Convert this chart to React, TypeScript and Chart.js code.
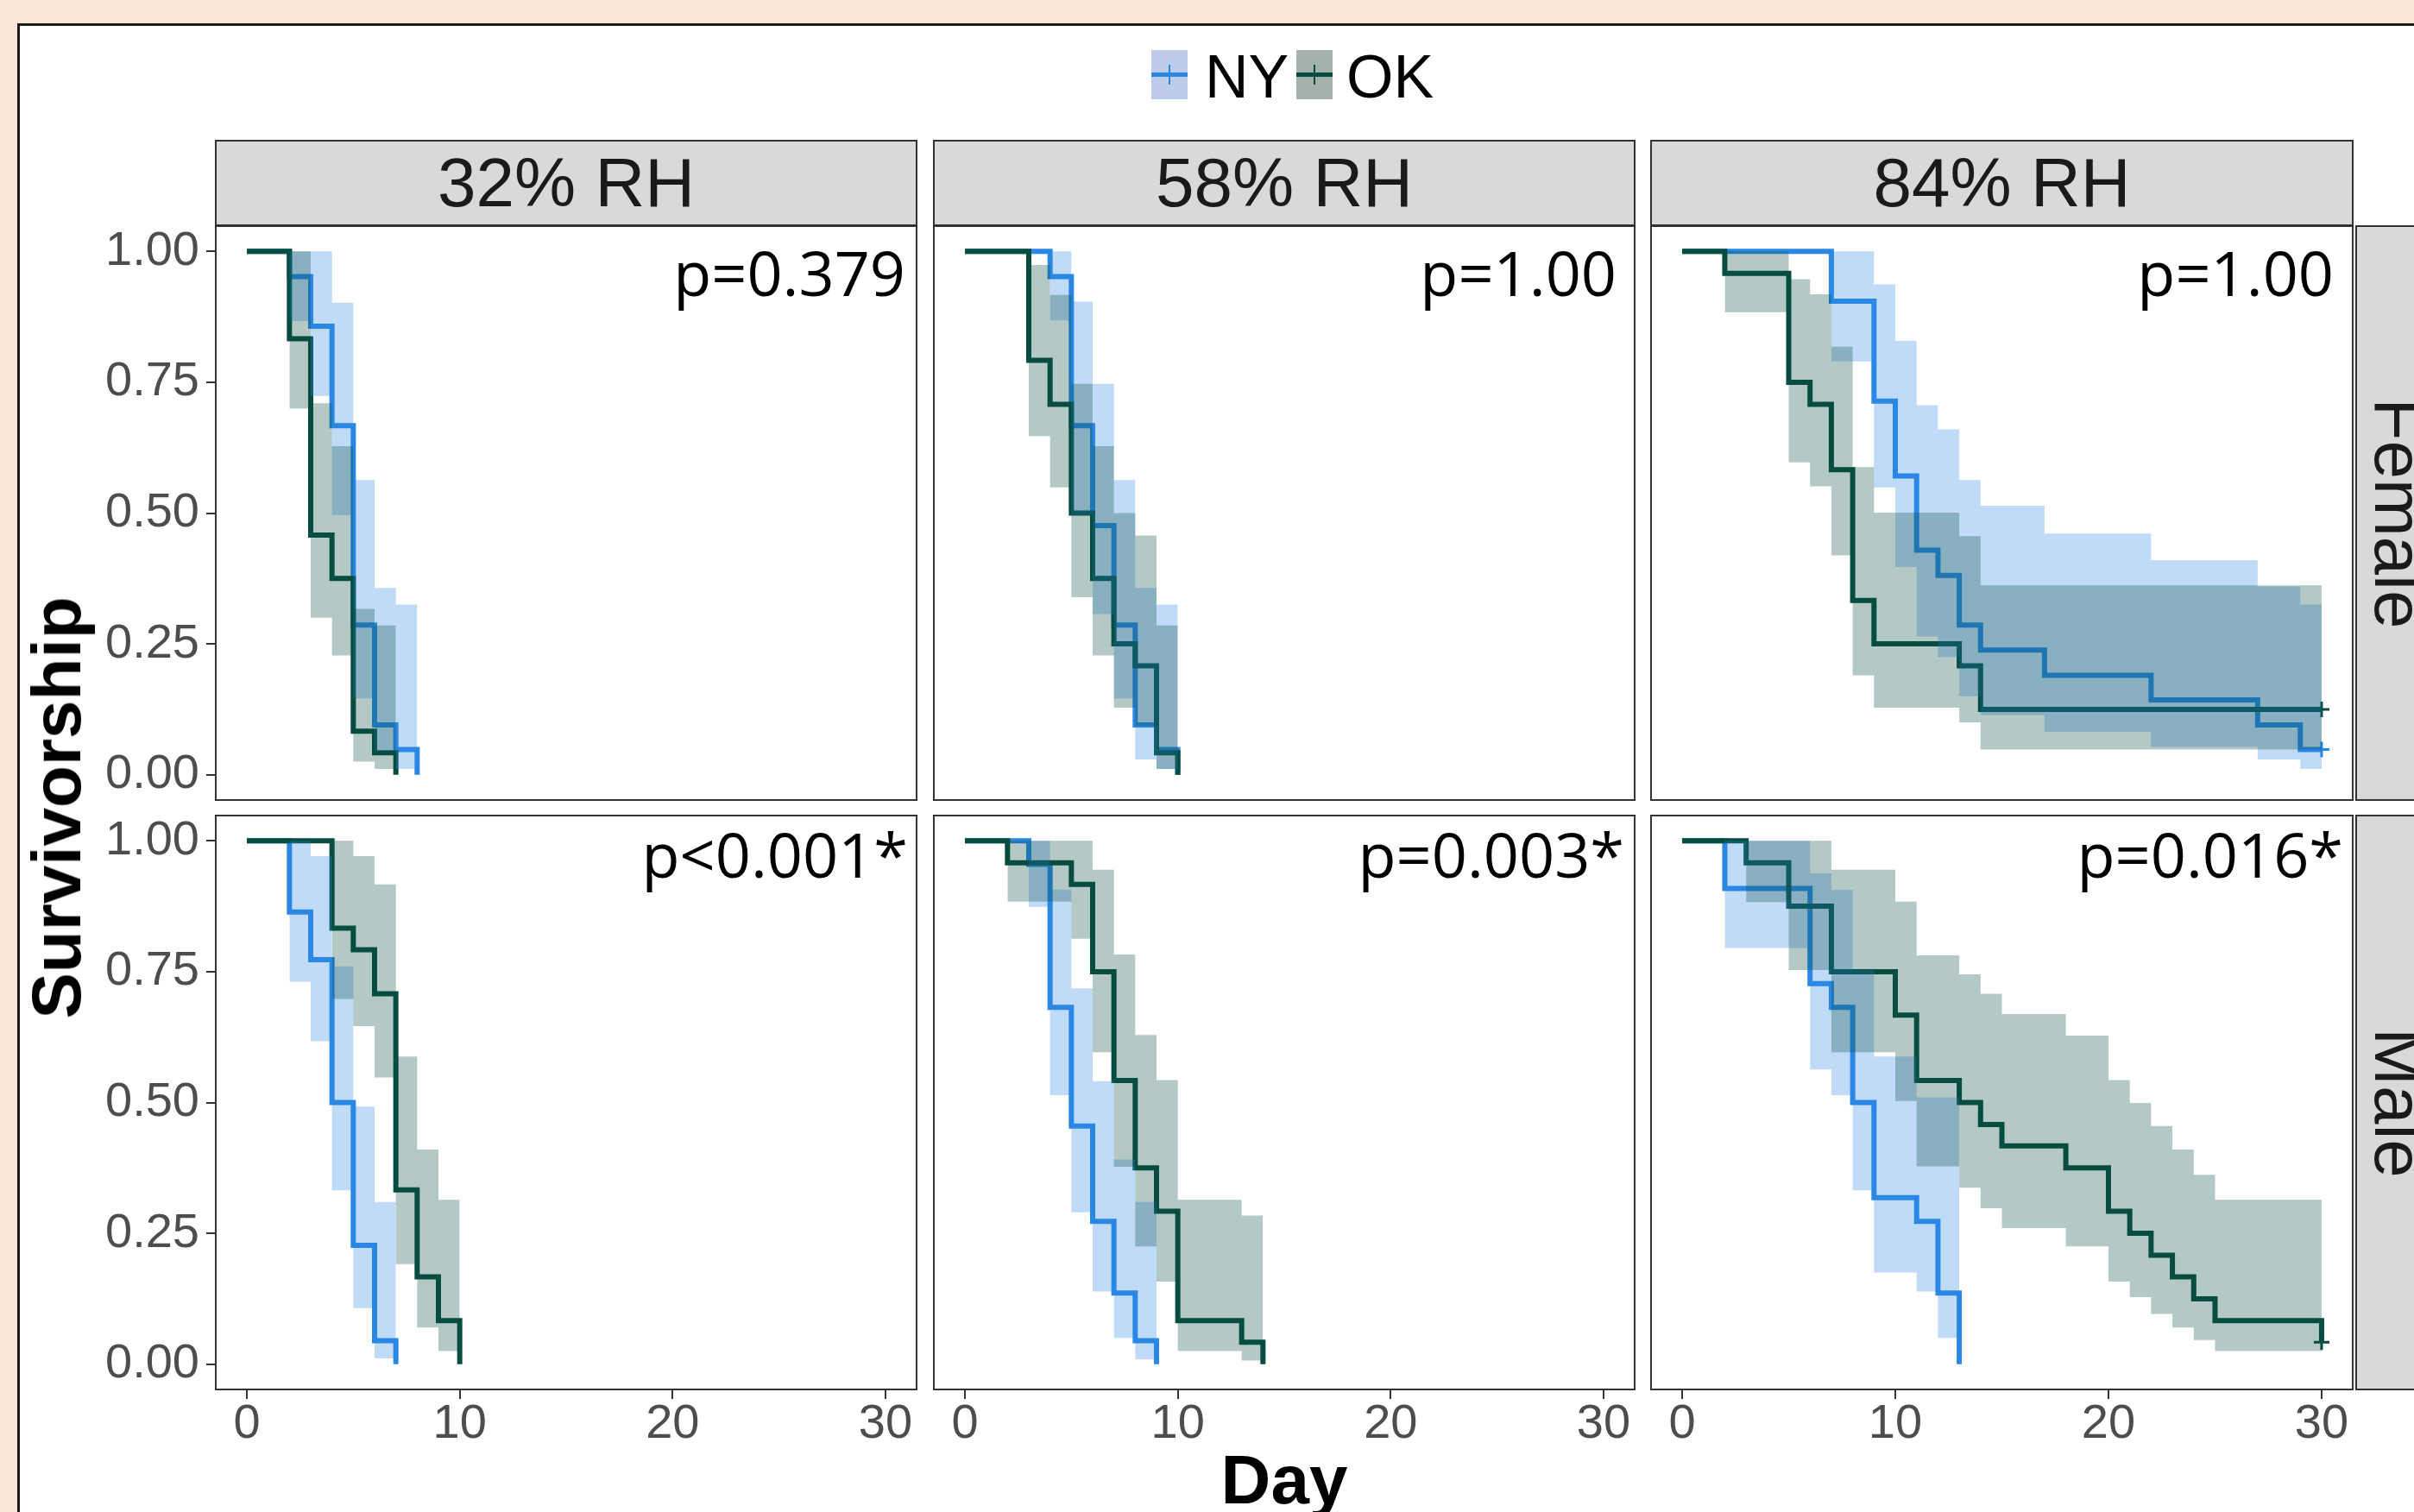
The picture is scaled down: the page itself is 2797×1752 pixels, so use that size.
import React, { useEffect, useRef } from 'react';
import { Chart, registerables } from 'chart.js';

Chart.register(...registerables);

// ---------- labels ----------
const RH_LABELS = ['32% RH', '58% RH', '84% RH'];
const SEX_LABELS = ['Female', 'Male'];
const P_VALUES = [
  ['p=0.379', 'p=1.00', 'p=1.00'],
  ['p<0.001*', 'p=0.003*', 'p=0.016*'],
];
const GROUPS = ['NY', 'OK'];
const X_TICKS = [0, 10, 20, 30];
const Y_TICKS = [0, 0.25, 0.5, 0.75, 1];
const X_TITLE = 'Day';
const Y_TITLE = 'Survivorship';

// ---------- Female, 32% RH ----------
const F32_NY_T = [0, 2, 3, 4, 5, 6, 7, 8];
const F32_NY_S = [1, 0.952, 0.857, 0.667, 0.286, 0.095, 0.048, 0];
const F32_NY_BT = [2, 3, 4, 5, 6, 7, 8];
const F32_NY_BU = [1, 1, 0.902, 0.563, 0.357, 0.325];
const F32_NY_BL = [0.867, 0.724, 0.496, 0.146, 0.045, 0.011];
const F32_OK_T = [0, 2, 3, 4, 5, 6, 7];
const F32_OK_S = [1, 0.833, 0.458, 0.375, 0.083, 0.042, 0];
const F32_OK_BT = [2, 3, 4, 5, 6, 7];
const F32_OK_BU = [1, 0.71, 0.628, 0.317, 0.285];
const F32_OK_BL = [0.7, 0.3, 0.228, 0.025, 0.011];

// ---------- Female, 58% RH ----------
const F58_NY_T = [0, 4, 5, 6, 7, 8, 9, 10];
const F58_NY_S = [1, 0.952, 0.667, 0.476, 0.286, 0.095, 0.048, 0];
const F58_NY_BT = [4, 5, 6, 7, 8, 9, 10];
const F58_NY_BU = [1, 0.904, 0.747, 0.563, 0.357, 0.325];
const F58_NY_BL = [0.868, 0.496, 0.307, 0.146, 0.029, 0.011];
const F58_OK_T = [0, 3, 4, 5, 6, 7, 8, 9, 10];
const F58_OK_S = [1, 0.792, 0.708, 0.5, 0.375, 0.25, 0.208, 0.042, 0];
const F58_OK_BT = [3, 4, 5, 6, 7, 8, 9, 10];
const F58_OK_BU = [0.974, 0.917, 0.747, 0.628, 0.5, 0.457, 0.285];
const F58_OK_BL = [0.647, 0.549, 0.339, 0.228, 0.128, 0.093, 0.011];

// ---------- Female, 84% RH ----------
const F84_NY_T = [0, 7, 9, 10, 11, 12, 13, 14, 17, 22, 27, 29, 30];
const F84_NY_S = [1, 0.905, 0.714, 0.571, 0.429, 0.381, 0.286, 0.238, 0.19, 0.143, 0.095, 0.048, 0.048];
const F84_NY_BT = [7, 9, 10, 11, 12, 13, 14, 17, 22, 27, 29, 30];
const F84_NY_BU = [1, 0.937, 0.829, 0.706, 0.66, 0.563, 0.514, 0.461, 0.41, 0.36, 0.325];
const F84_NY_BL = [0.79, 0.549, 0.397, 0.264, 0.225, 0.15, 0.114, 0.082, 0.053, 0.029, 0.011];
const F84_OK_T = [0, 2, 5, 6, 7, 8, 9, 13, 14, 30];
const F84_OK_S = [1, 0.958, 0.75, 0.708, 0.583, 0.333, 0.25, 0.208, 0.125, 0.125];
const F84_OK_BT = [2, 5, 6, 7, 8, 9, 13, 14, 30];
const F84_OK_BU = [1, 0.947, 0.918, 0.818, 0.588, 0.501, 0.456, 0.362];
const F84_OK_BL = [0.884, 0.597, 0.551, 0.419, 0.19, 0.128, 0.1, 0.048];

// ---------- Male, 32% RH ----------
const M32_NY_T = [0, 2, 3, 4, 5, 6, 7];
const M32_NY_S = [1, 0.864, 0.773, 0.5, 0.227, 0.045, 0];
const M32_NY_BT = [2, 3, 4, 5, 6, 7];
const M32_NY_BU = [1, 0.971, 0.76, 0.492, 0.31];
const M32_NY_BL = [0.731, 0.617, 0.332, 0.107, 0.011];
const M32_OK_T = [0, 4, 5, 6, 7, 8, 9, 10];
const M32_OK_S = [1, 0.833, 0.792, 0.708, 0.333, 0.167, 0.083, 0];
const M32_OK_BT = [4, 5, 6, 7, 8, 9, 10];
const M32_OK_BU = [1, 0.971, 0.917, 0.588, 0.41, 0.314];
const M32_OK_BL = [0.698, 0.646, 0.548, 0.191, 0.07, 0.025];

// ---------- Male, 58% RH ----------
const M58_NY_T = [0, 3, 4, 5, 6, 7, 8, 9];
const M58_NY_S = [1, 0.955, 0.682, 0.455, 0.273, 0.136, 0.045, 0];
const M58_NY_BT = [3, 4, 5, 6, 7, 8, 9];
const M58_NY_BU = [1, 0.907, 0.718, 0.541, 0.391, 0.31];
const M58_NY_BL = [0.874, 0.514, 0.29, 0.139, 0.05, 0.009];
const M58_OK_T = [0, 2, 5, 6, 7, 8, 9, 10, 13, 14];
const M58_OK_S = [1, 0.958, 0.917, 0.75, 0.542, 0.375, 0.292, 0.083, 0.042, 0];
const M58_OK_BT = [2, 5, 6, 7, 8, 9, 10, 13, 14];
const M58_OK_BU = [1, 1, 0.945, 0.783, 0.629, 0.543, 0.314, 0.284];
const M58_OK_BL = [0.884, 0.813, 0.596, 0.377, 0.225, 0.158, 0.025, 0.007];

// ---------- Male, 84% RH ----------
const M84_NY_T = [0, 2, 6, 7, 8, 9, 11, 12, 13];
const M84_NY_S = [1, 0.909, 0.727, 0.682, 0.5, 0.318, 0.273, 0.136, 0];
const M84_NY_BT = [2, 6, 7, 8, 9, 11, 12, 13];
const M84_NY_BU = [1, 0.938, 0.906, 0.753, 0.588, 0.51, 0.51];
const M84_NY_BL = [0.795, 0.563, 0.514, 0.332, 0.175, 0.139, 0.05];
const M84_OK_T = [0, 3, 5, 7, 10, 11, 13, 14, 15, 18, 20, 21, 22, 23, 24, 25, 30];
const M84_OK_S = [1, 0.958, 0.875, 0.75, 0.667, 0.542, 0.5, 0.458, 0.417, 0.375, 0.292, 0.25, 0.208, 0.167, 0.125, 0.083, 0.042];
const M84_OK_BT = [3, 5, 7, 10, 11, 13, 14, 15, 18, 20, 21, 22, 23, 24, 25, 30];
const M84_OK_BU = [1, 1, 0.945, 0.884, 0.781, 0.745, 0.708, 0.669, 0.628, 0.543, 0.499, 0.455, 0.41, 0.362, 0.314];
const M84_OK_BL = [0.883, 0.753, 0.596, 0.503, 0.378, 0.337, 0.298, 0.26, 0.225, 0.158, 0.128, 0.096, 0.07, 0.046, 0.025];

type Curve = { t: number[]; s: number[]; bt: number[]; bu: number[]; bl: number[] };
const curve = (t: number[], s: number[], bt: number[], bu: number[], bl: number[]): Curve => ({ t, s, bt, bu, bl });

const PANELS: { ny: Curve; ok: Curve }[][] = [
  [
    { ny: curve(F32_NY_T, F32_NY_S, F32_NY_BT, F32_NY_BU, F32_NY_BL), ok: curve(F32_OK_T, F32_OK_S, F32_OK_BT, F32_OK_BU, F32_OK_BL) },
    { ny: curve(F58_NY_T, F58_NY_S, F58_NY_BT, F58_NY_BU, F58_NY_BL), ok: curve(F58_OK_T, F58_OK_S, F58_OK_BT, F58_OK_BU, F58_OK_BL) },
    { ny: curve(F84_NY_T, F84_NY_S, F84_NY_BT, F84_NY_BU, F84_NY_BL), ok: curve(F84_OK_T, F84_OK_S, F84_OK_BT, F84_OK_BU, F84_OK_BL) },
  ],
  [
    { ny: curve(M32_NY_T, M32_NY_S, M32_NY_BT, M32_NY_BU, M32_NY_BL), ok: curve(M32_OK_T, M32_OK_S, M32_OK_BT, M32_OK_BU, M32_OK_BL) },
    { ny: curve(M58_NY_T, M58_NY_S, M58_NY_BT, M58_NY_BU, M58_NY_BL), ok: curve(M58_OK_T, M58_OK_S, M58_OK_BT, M58_OK_BU, M58_OK_BL) },
    { ny: curve(M84_NY_T, M84_NY_S, M84_NY_BT, M84_NY_BU, M84_NY_BL), ok: curve(M84_OK_T, M84_OK_S, M84_OK_BT, M84_OK_BU, M84_OK_BL) },
  ],
];

// ---------- style / layout ----------
const FONT = '"Liberation Sans", Arial, Helvetica, sans-serif';
const P_FONT = '"Open Sans", "Noto Sans", sans-serif';
const NY_LINE = '#2A88E4';
const OK_LINE = '#064C40';
const NY_BAND = 'rgba(42,136,228,0.3)';
const OK_BAND = 'rgba(6,76,64,0.3)';
const NY_KEY = '#BCCCEA';
const OK_KEY = '#A5B2AC';
const PEACH = '#FBE5D6';

const COL_L = [249, 1081, 1912];
const COL_W = [814, 814, 815];
const ROW_T = [261, 944];
const ROW_H = [667, 667];
const AX_W = 200;
const AX_H = 80;
const STRIP_TOP = 162;
const STRIP_RIGHT_L = 2729;
const P_RIGHT = [[1049, 1873, 2704], [1052, 1882, 2715]];
const P_BASE = [343, 1017];

const borderPlugin = {
  id: 'panelBorder',
  afterDraw(chart: any) {
    const { ctx, chartArea: a } = chart;
    ctx.save();
    ctx.strokeStyle = '#333333';
    ctx.lineWidth = 2;
    ctx.strokeRect(a.left + 1, a.top + 1, a.right - a.left - 2, a.bottom - a.top - 2);
    ctx.restore();
  },
};

function bandPoints(bt: number[], vals: number[]) {
  return bt.map((x, i) => ({ x, y: vals[Math.min(i, vals.length - 1)] }));
}

function linePoints(t: number[], s: number[]) {
  return t.map((x, i) => ({ x, y: s[i] }));
}

function Panel({ row, col }: { row: number; col: number }) {
  const ref = useRef<HTMLCanvasElement>(null);
  const showY = col === 0;
  const showX = row === 1;
  const left = COL_L[col] - (showY ? AX_W : 0);
  const top = ROW_T[row];
  const width = COL_W[col] + (showY ? AX_W : 0);
  const height = ROW_H[row] + (showX ? AX_H : 0);

  useEffect(() => {
    const p = PANELS[row][col];
    const censorRadius = (c: Curve) =>
      c.t.map((_, i) => (i === c.t.length - 1 && c.s[i] > 0 ? 9 : 0));
    const bandDs = (c: Curve, color: string, label: string) => [
      {
        label: label + ' upper',
        data: bandPoints(c.bt, c.bu),
        stepped: true,
        fill: '+1',
        backgroundColor: color,
        borderWidth: 0,
        pointRadius: 0,
        pointHoverRadius: 0,
      },
      {
        label: label + ' lower',
        data: bandPoints(c.bt, c.bl),
        stepped: true,
        fill: false,
        borderWidth: 0,
        pointRadius: 0,
        pointHoverRadius: 0,
      },
    ];
    const lineDs = (c: Curve, color: string, label: string) => ({
      label,
      data: linePoints(c.t, c.s),
      stepped: true,
      fill: false,
      borderColor: color,
      borderWidth: 6,
      borderCapStyle: 'butt',
      borderJoinStyle: 'miter',
      pointStyle: 'cross',
      pointRadius: censorRadius(c),
      pointHoverRadius: 0,
      pointBorderWidth: 3,
      pointBorderColor: color,
      pointBackgroundColor: color,
    });
    const datasets: any[] = [
      ...bandDs(p.ok, OK_BAND, GROUPS[1]),
      ...bandDs(p.ny, NY_BAND, GROUPS[0]),
      lineDs(p.ok, OK_LINE, GROUPS[1]),
      lineDs(p.ny, NY_LINE, GROUPS[0]),
    ];
    const tickFont = { family: FONT, size: 56, lineHeight: 1 };
    const grid = { drawOnChartArea: false, drawTicks: true, tickLength: 10, color: '#333333', lineWidth: 2 };
    const zeroPad = (s: any) => {
      s.paddingLeft = 0;
      s.paddingRight = 0;
      s.paddingTop = 0;
      s.paddingBottom = 0;
    };
    const chart = new Chart(ref.current as HTMLCanvasElement, {
      type: 'line',
      data: { datasets },
      options: {
        responsive: false,
        animation: false,
        devicePixelRatio: 1,
        events: [],
        layout: { padding: 0, autoPadding: false },
        plugins: {
          legend: { display: false },
          tooltip: { enabled: false },
        },
        elements: { line: { tension: 0 } },
        scales: {
          x: {
            type: 'linear',
            min: -1.5,
            max: 31.5,
            display: showX,
            afterBuildTicks: (s: any) => {
              s.ticks = X_TICKS.map((v) => ({ value: v }));
            },
            afterFit: (s: any) => {
              s.height = showX ? AX_H : 0;
              zeroPad(s);
            },
            ticks: {
              autoSkip: false,
              maxRotation: 0,
              minRotation: 0,
              font: tickFont,
              color: '#4D4D4D',
              padding: 2,
              callback: (v: any) => String(v),
            },
            grid,
            border: { display: false },
          },
          y: {
            type: 'linear',
            min: -0.05,
            max: 1.05,
            display: showY,
            afterBuildTicks: (s: any) => {
              s.ticks = Y_TICKS.map((v) => ({ value: v }));
            },
            afterFit: (s: any) => {
              s.width = showY ? AX_W : 0;
              zeroPad(s);
            },
            ticks: {
              autoSkip: false,
              font: tickFont,
              color: '#4D4D4D',
              padding: 8,
              callback: (v: any) => Number(v).toFixed(2),
            },
            grid,
            border: { display: false },
          },
        },
      } as any,
      plugins: [borderPlugin],
    });
    return () => chart.destroy();
  }, [row, col]);

  return (
    <canvas
      ref={ref}
      width={width}
      height={height}
      style={{ position: 'absolute', left, top, width, height, display: 'block' }}
    />
  );
}

function LegendKey({ left, fill, line }: { left: number; fill: string; line: string }) {
  return (
    <div style={{ position: 'absolute', left, top: 58, width: 42, height: 57, background: fill }}>
      <div style={{ position: 'absolute', left: 0, right: 0, top: 26, height: 5, background: line }} />
      <div style={{ position: 'absolute', left: 20, width: 2, top: 17, height: 23, background: line }} />
    </div>
  );
}

export default function App() {
  const text: React.CSSProperties = { position: 'absolute', fontFamily: FONT, whiteSpace: 'nowrap' };
  return (
    <div
      style={{
        position: 'fixed',
        left: 0,
        top: 0,
        width: 2797,
        height: 1752,
        overflow: 'hidden',
        background: PEACH,
      }}
    >
      <div
        style={{
          position: 'absolute',
          left: 20,
          top: 27,
          width: 2820,
          height: 1780,
          background: '#FFFFFF',
          borderLeft: '3px solid #1A1A1A',
          borderTop: '3px solid #1A1A1A',
        }}
      />

      {/* legend */}
      <LegendKey left={1334} fill={NY_KEY} line={NY_LINE} />
      <div style={{ ...text, left: 1396, top: 54, fontSize: 70, lineHeight: '70px', color: '#000' }}>{GROUPS[0]}</div>
      <LegendKey left={1502} fill={OK_KEY} line={OK_LINE} />
      <div style={{ ...text, left: 1560, top: 54, fontSize: 70, lineHeight: '70px', color: '#000' }}>{GROUPS[1]}</div>

      {/* top strips */}
      {RH_LABELS.map((lab, c) => (
        <div
          key={'ts' + c}
          style={{
            position: 'absolute',
            left: COL_L[c],
            top: STRIP_TOP,
            width: COL_W[c],
            height: ROW_T[0] - STRIP_TOP + 1,
            boxSizing: 'border-box',
            background: '#D9D9D9',
            border: '2px solid #333333',
            display: 'flex',
            alignItems: 'center',
            justifyContent: 'center',
            fontFamily: FONT,
            fontSize: 80,
            lineHeight: '80px',
            color: '#1A1A1A',
          }}
        >
          {lab}
        </div>
      ))}

      {/* right strips */}
      {SEX_LABELS.map((lab, r) => (
        <div
          key={'rs' + r}
          style={{
            position: 'absolute',
            left: STRIP_RIGHT_L,
            top: ROW_T[r],
            width: 100,
            height: ROW_H[r],
            boxSizing: 'border-box',
            background: '#D9D9D9',
            border: '2px solid #333333',
          }}
        >
          <div
            style={{
              ...text,
              left: '50%',
              top: '50%',
              transform: 'translate(-50%, -50%) rotate(90deg)',
              fontSize: 80,
              lineHeight: '80px',
              color: '#1A1A1A',
            }}
          >
            {lab}
          </div>
        </div>
      ))}

      {/* panels */}
      {[0, 1].map((r) => [0, 1, 2].map((c) => <Panel key={r + '-' + c} row={r} col={c} />))}

      {/* p-values */}
      {P_VALUES.map((rowVals, r) =>
        rowVals.map((pv, c) => (
          <div
            key={'p' + r + c}
            style={{
              position: 'absolute',
              right: 2797 - P_RIGHT[r][c],
              top: P_BASE[r] - 64,
              fontFamily: P_FONT,
              fontSize: 72,
              lineHeight: '72px',
              color: '#000',
              whiteSpace: 'nowrap',
            }}
          >
            {pv}
          </div>
        ))
      )}

      {/* axis titles */}
      <div
        style={{
          ...text,
          left: 1488,
          top: 1675,
          transform: 'translateX(-50%)',
          fontSize: 80,
          lineHeight: '80px',
          fontWeight: 'bold',
          color: '#000',
        }}
      >
        {X_TITLE}
      </div>
      <div
        style={{
          ...text,
          left: 66,
          top: 936,
          transform: 'translate(-50%, -50%) rotate(-90deg)',
          fontSize: 80,
          lineHeight: '80px',
          fontWeight: 'bold',
          color: '#000',
        }}
      >
        {Y_TITLE}
      </div>
    </div>
  );
}
